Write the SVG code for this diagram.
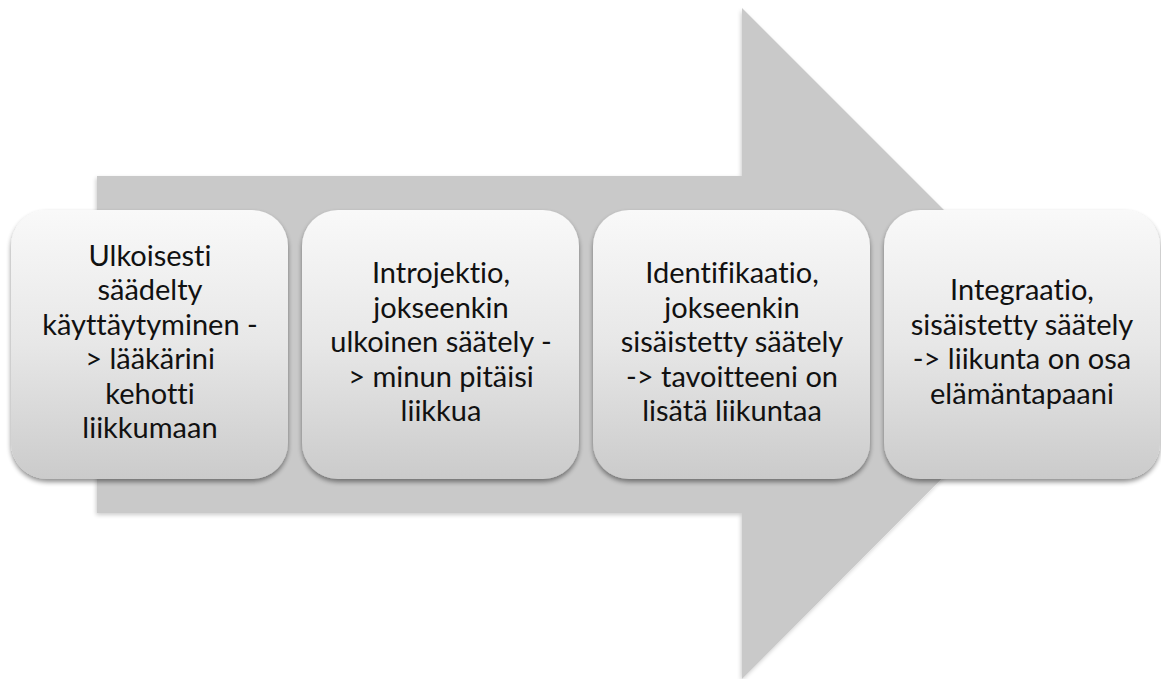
<svg xmlns="http://www.w3.org/2000/svg" width="1161" height="679" viewBox="0 0 1161 679">
<defs>
<linearGradient id="boxGrad" x1="0" y1="0" x2="0" y2="1">
<stop offset="0" stop-color="#f9f9f9"/>
<stop offset="0.5" stop-color="#e7e7e7"/>
<stop offset="1" stop-color="#cbcbcb"/>
</linearGradient>
<filter id="shadow" x="-10%" y="-10%" width="120%" height="125%">
<feGaussianBlur in="SourceAlpha" stdDeviation="2.5"/>
<feOffset dx="0" dy="3" result="b"/>
<feComponentTransfer><feFuncA type="linear" slope="0.45"/></feComponentTransfer>
<feMerge><feMergeNode/><feMergeNode in="SourceGraphic"/></feMerge>
</filter>
<filter id="arrowShadow" x="-5%" y="-5%" width="110%" height="110%">
<feGaussianBlur in="SourceAlpha" stdDeviation="2"/>
<feOffset dx="-1" dy="2"/>
<feComponentTransfer><feFuncA type="linear" slope="0.2"/></feComponentTransfer>
<feMerge><feMergeNode/><feMergeNode in="SourceGraphic"/></feMerge>
</filter>
</defs>
<style>
.box{fill:url(#boxGrad);filter:url(#shadow);}
.lbl{font-family:Lato,"Open Sans","Liberation Sans",sans-serif;font-size:29px;font-weight:400;fill:#111;text-anchor:middle;font-variant-ligatures:none;}
</style>
<rect width="1161" height="679" fill="#ffffff"/>
<g id="connectors">
<polygon id="bigArrow" points="97,176 742,176 742,8 1077,343 742,679 742,513 97,513" fill="#c9c9c9" filter="url(#arrowShadow)"/>
</g>
<g id="node1">
<rect class="box" x="11" y="210" width="277" height="269" rx="36" ry="36"/>
<text class="lbl" x="150"><tspan x="150" y="265.5">Ulkoisesti</tspan><tspan x="150" y="300">säädelty</tspan><tspan x="150" y="334.5">käyttäytyminen -</tspan><tspan x="150" y="369">&gt; lääkärini</tspan><tspan x="150" y="403.5">kehotti</tspan><tspan x="150" y="438">liikkumaan</tspan></text>
</g>
<g id="node2">
<rect class="box" x="302" y="210" width="277" height="269" rx="36" ry="36"/>
<text class="lbl" x="441"><tspan x="441" y="283">Introjektio,</tspan><tspan x="441" y="317.5">jokseenkin</tspan><tspan x="441" y="352">ulkoinen säätely -</tspan><tspan x="441" y="386.5">&gt; minun pitäisi</tspan><tspan x="441" y="421">liikkua</tspan></text>
</g>
<g id="node3">
<rect class="box" x="593" y="210" width="277" height="269" rx="36" ry="36"/>
<text class="lbl" x="732"><tspan x="732" y="283">Identifikaatio,</tspan><tspan x="732" y="317.5">jokseenkin</tspan><tspan x="732" y="352">sisäistetty säätely</tspan><tspan x="732" y="386.5">-&gt; tavoitteeni on</tspan><tspan x="732" y="421">lisätä liikuntaa</tspan></text>
</g>
<g id="node4">
<rect class="box" x="884" y="210" width="276" height="269" rx="36" ry="36"/>
<text class="lbl" x="1022"><tspan x="1022" y="300">Integraatio,</tspan><tspan x="1022" y="334.5">sisäistetty säätely</tspan><tspan x="1022" y="369">-&gt; liikunta on osa</tspan><tspan x="1022" y="403.5">elämäntapaani</tspan></text>
</g>
</svg>
